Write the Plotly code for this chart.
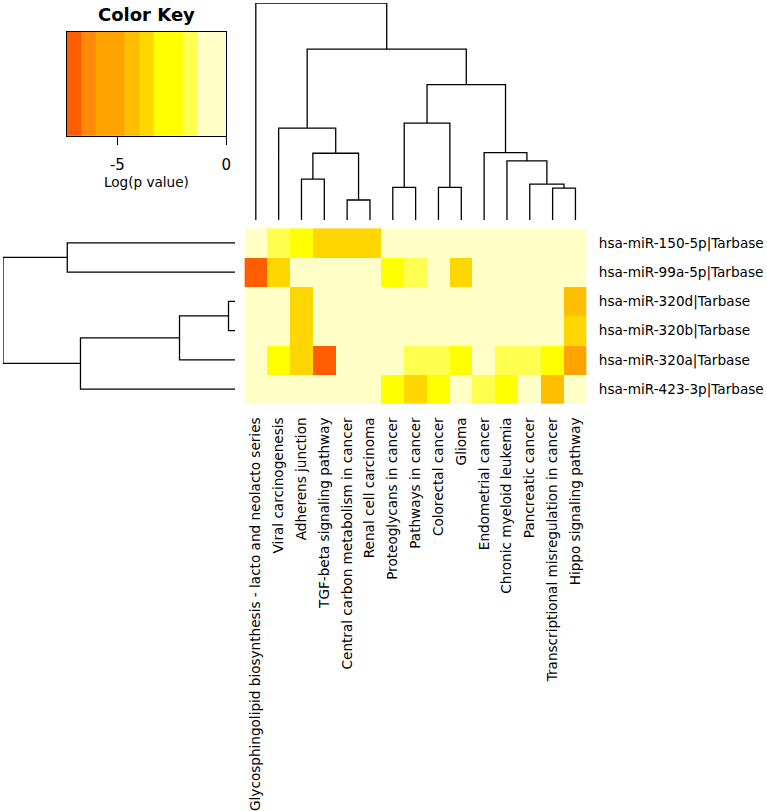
import plotly.graph_objects as go

W, H = 767, 811
FONT = "DejaVu Sans"

# ---------------- data ----------------
pathways = [
    "Glycosphingolipid biosynthesis - lacto and neolacto series",
    "Viral carcinogenesis",
    "Adherens junction",
    "TGF-beta signaling pathway",
    "Central carbon metabolism in cancer",
    "Renal cell carcinoma",
    "Proteoglycans in cancer",
    "Pathways in cancer",
    "Colorectal cancer",
    "Glioma",
    "Endometrial cancer",
    "Chronic myeloid leukemia",
    "Pancreatic cancer",
    "Transcriptional misregulation in cancer",
    "Hippo signaling pathway",
]
mirnas = [
    "hsa-miR-150-5p|Tarbase",
    "hsa-miR-99a-5p|Tarbase",
    "hsa-miR-320d|Tarbase",
    "hsa-miR-320b|Tarbase",
    "hsa-miR-320a|Tarbase",
    "hsa-miR-423-3p|Tarbase",
]
# log(p value), one row per miRNA (top to bottom), one column per pathway
logp_150_5p = [-0.4, -1.6, -2.6, -3.7, -3.7, -3.7, -0.4, -0.4, -0.4, -0.4, -0.4, -0.4, -0.4, -0.4, -0.4]
logp_99a_5p = [-7.0, -3.7, -0.4, -0.4, -0.4, -0.4, -2.6, -1.6, -0.4, -3.7, -0.4, -0.4, -0.4, -0.4, -0.4]
logp_320d = [-0.4, -0.4, -3.7, -0.4, -0.4, -0.4, -0.4, -0.4, -0.4, -0.4, -0.4, -0.4, -0.4, -0.4, -4.3]
logp_320b = [-0.4, -0.4, -3.7, -0.4, -0.4, -0.4, -0.4, -0.4, -0.4, -0.4, -0.4, -0.4, -0.4, -0.4, -3.7]
logp_320a = [-0.4, -2.6, -3.7, -7.0, -0.4, -0.4, -0.4, -1.6, -1.6, -2.6, -0.4, -1.6, -1.6, -2.6, -5.3]
logp_423_3p = [-0.4, -0.4, -0.4, -0.4, -0.4, -0.4, -2.6, -3.7, -2.6, -0.4, -1.6, -2.6, -0.4, -4.3, -0.4]
logp = [logp_150_5p, logp_99a_5p, logp_320d, logp_320b, logp_320a, logp_423_3p]

# colour key breaks and colours
breaks = [-22 / 3, -20 / 3, -6.0, -14 / 3, -4.0, -10 / 3, -2.0, -4 / 3, 0.0]
key_colors = ["#FF5E00", "#FF8A0A", "#FFA300", "#FFBF00", "#FFD700", "#FFFF00", "#FFFF50", "#FFFFC8"]
key_ticks = [-5, 0]

# column dendrogram merges (a, b, height); ids >= n refer to earlier merges
col_merges = [
    (2, 3, 41), (4, 5, 20), (15, 16, 67), (1, 17, 92.3),
    (6, 7, 32.7), (8, 9, 32.7), (19, 20, 97.3),
    (13, 14, 32), (12, 22, 36), (11, 23, 59.3), (10, 24, 67.7),
    (21, 25, 136), (18, 26, 171.7), (0, 27, 218),
]
# row dendrogram merges
row_merges = [
    (2, 3, 6.7), (6, 4, 56), (0, 1, 169), (7, 5, 155.7), (8, 9, 233.7),
]

# ---------------- helpers ----------------
def px_x(p):
    return p / W

def px_y(p):
    return 1 - p / H

def dendro_segments(merges, n):
    pos = {i: float(i) for i in range(n)}
    hgt = {i: 0.0 for i in range(n)}
    xs, ys = [], []
    for k, (a, b, h) in enumerate(merges):
        pa, pb = pos[a], pos[b]
        xs += [pa, pa, pb, pb, None]
        ys += [hgt[a], h, h, hgt[b], None]
        pos[n + k] = (pa + pb) / 2
        hgt[n + k] = h
    return xs, ys

zmin, zmax = breaks[0], breaks[-1]
cscale = []
for i, c in enumerate(key_colors):
    lo = (breaks[i] - zmin) / (zmax - zmin)
    hi = (breaks[i + 1] - zmin) / (zmax - zmin)
    cscale.append([lo, c])
    cscale.append([hi, c])

fig = go.Figure()

# main heatmap
fig.add_trace(go.Heatmap(
    z=logp, x=list(range(len(pathways))), y=list(range(len(mirnas))),
    colorscale=cscale, zmin=zmin, zmax=zmax, showscale=False,
    xaxis="x", yaxis="y", hoverinfo="skip",
))

# colour key
key_mid = [[(breaks[i] + breaks[i + 1]) / 2 for i in range(len(key_colors))]]
fig.add_trace(go.Heatmap(
    z=key_mid, x=breaks, y=[0, 1],
    colorscale=cscale, zmin=zmin, zmax=zmax, showscale=False,
    xaxis="x4", yaxis="y4", hoverinfo="skip",
))

# column dendrogram
cx, cy = dendro_segments(col_merges, len(pathways))
fig.add_trace(go.Scatter(x=cx, y=cy, mode="lines", line=dict(color="black", width=1.3),
                         xaxis="x2", yaxis="y2", hoverinfo="skip", showlegend=False))
# row dendrogram (x = height, y = row index)
ry, rx = dendro_segments(row_merges, len(mirnas))
fig.add_trace(go.Scatter(x=rx, y=ry, mode="lines", line=dict(color="black", width=1.3),
                         xaxis="x3", yaxis="y3", hoverinfo="skip", showlegend=False))

hm_x = [px_x(246), px_x(590.7)]
hm_y = [px_y(405.7), px_y(229.3)]
nc, nr = len(pathways), len(mirnas)

fig.update_layout(
    width=W, height=H, margin=dict(l=0, r=0, t=0, b=0),
    paper_bgcolor="white", plot_bgcolor="white",
    font=dict(family=FONT, color="black", size=13.6),
    showlegend=False,
    xaxis=dict(domain=hm_x, range=[-0.5, nc - 0.5], tickmode="array",
               tickvals=list(range(nc)), ticktext=pathways, tickangle=-90,
               ticks="", ticklabelstandoff=10, showgrid=False, zeroline=False,
               anchor="y", tickfont=dict(size=13.6)),
    yaxis=dict(domain=hm_y, range=[nr - 0.5, -0.5], tickmode="array",
               tickvals=list(range(nr)), ticktext=mirnas, side="right",
               ticks="", ticklabelstandoff=11, showgrid=False, zeroline=False,
               anchor="x", tickfont=dict(size=13.6)),
    xaxis2=dict(domain=hm_x, range=[-0.5, nc - 0.5], visible=False, anchor="y2"),
    yaxis2=dict(domain=[px_y(221), px_y(3)], range=[0, 218], visible=False, anchor="x2"),
    xaxis3=dict(domain=[px_x(3), px_x(236.7)], range=[233.7, 0], visible=False, anchor="y3"),
    yaxis3=dict(domain=hm_y, range=[nr - 0.5, -0.5], visible=False, anchor="x3"),
    xaxis4=dict(domain=[px_x(67), px_x(227.7)], range=[zmin, zmax], anchor="y4",
                tickmode="array", tickvals=key_ticks, ticktext=[str(t) for t in key_ticks],
                ticks="outside", ticklen=8, tickwidth=1.2, tickcolor="black",
                ticklabelstandoff=7,
                showline=True, linecolor="black", linewidth=1, mirror=True,
                showgrid=False, zeroline=False, tickfont=dict(size=15),
                title=dict(text="Log(p value)", font=dict(size=13.6), standoff=4)),
    yaxis4=dict(domain=[px_y(137), px_y(32)], range=[0, 1], anchor="x4",
                showticklabels=False, ticks="", showline=True, linecolor="black",
                linewidth=1, mirror=True, showgrid=False, zeroline=False),
    annotations=[dict(text="<b>Color Key</b>", x=px_x(147), y=px_y(15), xref="paper",
                      yref="paper", showarrow=False, font=dict(size=18, family=FONT),
                      xanchor="center", yanchor="middle")],
)

fig.write_html("out.html", post_script="document.body.style.margin='0';",
               config={"displayModeBar": False})
